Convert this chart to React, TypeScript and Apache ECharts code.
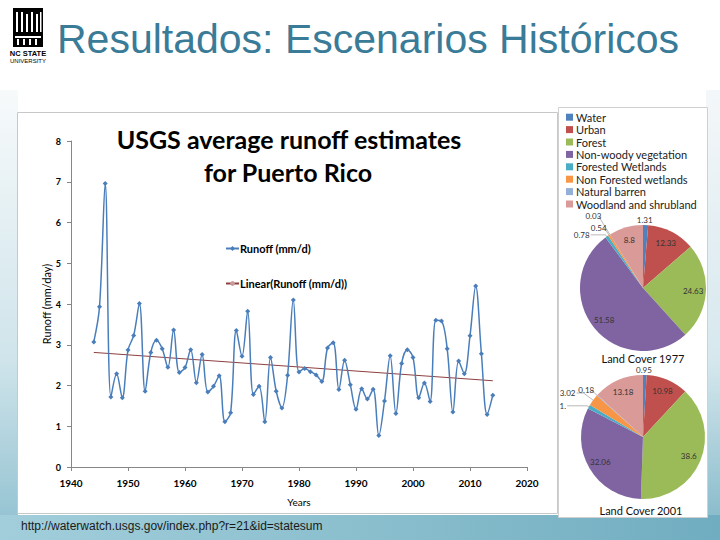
import React, { useEffect, useRef } from "react";
import * as echarts from "echarts";

const years = [
  1944, 1945, 1946, 1947, 1948, 1949, 1950, 1951, 1952, 1953, 1954, 1955,
  1956, 1957, 1958, 1959, 1960, 1961, 1962, 1963, 1964, 1965, 1966, 1967,
  1968, 1969, 1970, 1971, 1972, 1973, 1974, 1975, 1976, 1977, 1978, 1979,
  1980, 1981, 1982, 1983, 1984, 1985, 1986, 1987, 1988, 1989, 1990, 1991,
  1992, 1993, 1994, 1995, 1996, 1997, 1998, 1999, 2000, 2001, 2002, 2003,
  2004, 2005, 2006, 2007, 2008, 2009, 2010, 2011, 2012, 2013, 2014,
];
const runoff = [
  3.07, 3.93, 6.96, 1.72, 2.29, 1.7, 2.87, 3.23, 4.01, 1.86, 2.81, 3.11,
  2.9, 2.45, 3.36, 2.32, 2.44, 2.88, 2.07, 2.76, 1.84, 1.98, 2.24, 1.11,
  1.33, 3.35, 2.72, 3.82, 1.78, 1.98, 1.11, 2.69, 1.86, 1.45, 2.25, 4.1,
  2.33, 2.42, 2.34, 2.26, 2.1, 2.92, 3.05, 1.9, 2.62, 2.02, 1.42, 1.92,
  1.67, 1.91, 0.77, 1.62, 2.73, 1.31, 2.54, 2.88, 2.69, 1.7, 2.06, 1.61,
  3.6, 3.58, 2.9, 1.35, 2.6, 2.29, 3.22, 4.44, 2.78, 1.29, 1.76,
];
const yTicks = { min: 0, max: 8, interval: 1 };
const xTicks = { min: 1940, max: 2020, interval: 10 };

const landNames = [
  "Water",
  "Urban",
  "Forest",
  "Non-woody vegetation",
  "Forested Wetlands",
  "Non Forested wetlands",
  "Natural barren",
  "Woodland and shrubland",
];
const land1977 = [1.31, 12.33, 24.63, 51.58, 0.78, 0.54, 0.03, 8.8];
const land2001 = [0.95, 10.98, 38.6, 32.06, 1.03, 3.02, 0.18, 13.18];
const land1977Labels = ["1.31", "12.33", "24.63", "51.58", "0.78", "0.54", "0.03", "8.8"];
const land2001Labels = ["0.95", "10.98", "38.6", "32.06", "1.", "3.02", "0.18", "13.18"];
const pieColors = [
  "#4f81bd",
  "#c0504d",
  "#9bbb59",
  "#8064a2",
  "#4bacc6",
  "#f79646",
  "#95b0d8",
  "#d99a98",
];
// leader line styling for the small outside slices: [length, length2, gap, showLine] (null = inside label)
const leader1977: (number[] | null)[] = [[5, 0, -9, 0], null, null, null, [2, 15, 1, 1], [8, 0, -2, 1], [22, 0, -3, 1], null];
const leader2001: (number[] | null)[] = [[5, 0, -9, 0], null, null, null, [2, 20, 1, 1], [12, 7, 1, 1], [8, 0, -3, 1], null];

function linearFit(xs: number[], ys: number[]) {
  const n = xs.length;
  let sx = 0, sy = 0, sxx = 0, sxy = 0;
  for (let i = 0; i < n; i++) {
    sx += xs[i];
    sy += ys[i];
    sxx += xs[i] * xs[i];
    sxy += xs[i] * ys[i];
  }
  const b = (n * sxy - sx * sy) / (n * sxx - sx * sx);
  const a = (sy - b * sx) / n;
  return { a, b };
}

function txt(x: number, y: number, text: string, font: string, fill: string, align = "center") {
  return {
    type: "text",
    z: 2,
    x,
    y,
    style: {
      text,
      font,
      fill,
      align,
      verticalAlign: "middle",
      textAlign: align,
      textVerticalAlign: "middle",
    },
  };
}

export default function App() {
  const ref = useRef<HTMLDivElement>(null);
  useEffect(() => {
    if (!ref.current) return;
    const chart = echarts.init(ref.current, null, { renderer: "svg" });
    const fit = linearFit(years, runoff);
    const x0 = years[0];
    const x1 = years[years.length - 1];
    const trend = [
      [x0, fit.a + fit.b * x0],
      [x1, fit.a + fit.b * x1],
    ];

    const pieFill = (center: number[], r: number, vals: number[]) => ({
      type: "pie",
      center,
      radius: [0, r],
      startAngle: 90,
      clockwise: true,
      silent: true,
      label: { show: false },
      labelLine: { show: false },
      emphasis: { disabled: true },
      data: landNames.map((n, i) => ({
        name: n,
        value: vals[i],
        itemStyle: { color: pieColors[i] },
      })),
      z: 2,
    });
    const pieLabels = (
      center: number[],
      r: number,
      vals: number[],
      labels: string[],
      leaders: (number[] | null)[]
    ) => ({
      type: "pie",
      center,
      radius: [r / 2, r],
      startAngle: 90,
      clockwise: true,
      silent: true,
      emphasis: { disabled: true },
      avoidLabelOverlap: false,
      labelLayout: { hideOverlap: false },
      itemStyle: { color: "rgba(0,0,0,0)" },
      label: {
        show: true,
        position: "inside",
        fontSize: 8,
        fontFamily: "Lato",
        color: "#333333",
      },
      labelLine: { show: false },
      data: landNames.map((n, i) => {
        const l = leaders[i];
        return {
          name: n,
          value: vals[i],
          itemStyle: { color: "rgba(0,0,0,0)" },
          label: l
            ? { position: "outside", formatter: labels[i], distanceToLabelLine: l[2] }
            : { position: "inside", formatter: labels[i] },
          labelLine: l
            ? {
                show: l[3] === 1,
                length: l[0],
                length2: l[1],
                lineStyle: { color: "#8a8a8a", width: 0.6 },
              }
            : { show: false },
        };
      }),
      z: 3,
    });

    const logoBars = [
      [16, 12, 2, 20],
      [21, 12, 2, 20],
      [26, 14, 2, 18],
      [31, 12, 2, 20],
      [36, 14, 2, 18],
      [40, 12, 1.5, 20],
      [15, 36, 26, 2],
      [17, 39, 2, 6],
      [23, 39, 2, 6],
      [29, 39, 2, 6],
      [35, 39, 2, 6],
    ];

    const option: any = {
      animation: false,
      textStyle: { fontFamily: "Lato" },
      graphic: [
        { type: "rect", z: -10, shape: { x: 0, y: 0, width: 720, height: 540 }, style: { fill: "#ffffff" } },
        {
          type: "rect",
          z: -9,
          shape: { x: 0, y: 90, width: 18, height: 450 },
          style: {
            fill: new echarts.graphic.LinearGradient(0, 0, 0, 1, [
              { offset: 0, color: "#f7fafb" },
              { offset: 0.6, color: "#cfe4eb" },
              { offset: 1, color: "#8ebfcf" },
            ]),
          },
        },
        {
          type: "rect",
          z: -9,
          shape: { x: 706, y: 90, width: 14, height: 450 },
          style: {
            fill: new echarts.graphic.LinearGradient(0, 0, 0, 1, [
              { offset: 0, color: "#f4f7f9" },
              { offset: 0.6, color: "#d6e8ee" },
              { offset: 1, color: "#7fb6c7" },
            ]),
          },
        },
        {
          type: "rect",
          z: -8,
          shape: { x: 0, y: 515, width: 720, height: 25 },
          style: {
            fill: new echarts.graphic.LinearGradient(0, 0, 1, 0, [
              { offset: 0, color: "#a2cedb" },
              { offset: 0.5, color: "#8bbfce" },
              { offset: 1, color: "#70adc0" },
            ]),
          },
        },
        {
          type: "rect",
          z: -5,
          shape: { x: 17.5, y: 112.5, width: 540, height: 401 },
          style: { fill: "#ffffff", stroke: "#c8c8c8", lineWidth: 1 },
        },
        {
          type: "rect",
          z: -5,
          shape: { x: 558.5, y: 107.5, width: 149, height: 410 },
          style: { fill: "#ffffff", stroke: "#d0d0d0", lineWidth: 1 },
        },
        { type: "rect", z: 1, shape: { x: 13, y: 8, width: 30, height: 39 }, style: { fill: "#000000" } },
        ...logoBars.map((b) => ({
          type: "rect",
          z: 2,
          shape: { x: b[0], y: b[1], width: b[2], height: b[3] },
          style: { fill: "#ffffff" },
        })),
        txt(28, 53, "NC STATE", "bold 7.5px 'Liberation Sans'", "#000"),
        txt(28, 61, "UNIVERSITY", "6px 'Liberation Sans'", "#000"),
        txt(57, 39, "Resultados: Escenarios Históricos", "41px 'Liberation Sans'", "#3a7b98", "left"),
        txt(289, 139, "USGS average runoff estimates", "bold 25px Lato", "#000"),
        txt(288, 172, "for Puerto Rico", "bold 25px Lato", "#000"),
        txt(643, 358, "Land Cover 1977", "11px Lato", "#111"),
        txt(641, 510, "Land Cover 2001", "11px Lato", "#111"),
        txt(21, 526, "http://waterwatch.usgs.gov/index.php?r=21&id=statesum", "12px 'Liberation Sans'", "#1a1a1a", "left"),
      ],
      legend: [
        {
          data: ["Runoff (mm/d)", "Linear(Runoff (mm/d))"],
          orient: "vertical",
          left: 220,
          top: 238,
          itemWidth: 13,
          itemHeight: 6,
          itemGap: 24,
          selectedMode: false,
          textStyle: { fontFamily: "Lato", fontWeight: "bold", fontSize: 11, color: "#000", padding: [0, 0, 0, -4] },
        },
        {
          data: landNames,
          orient: "vertical",
          left: 561,
          top: 106,
          itemWidth: 7,
          itemHeight: 7,
          itemGap: 0,
          icon: "rect",
          selectedMode: false,
          textStyle: { fontFamily: "Lato", fontSize: 11, lineHeight: 12.4, color: "#222", padding: [0, 0, 0, -2] },
        },
      ],
      grid: { left: 71, right: 193, top: 141, bottom: 73 },
      xAxis: {
        type: "value",
        min: xTicks.min,
        max: xTicks.max,
        interval: xTicks.interval,
        name: "Years",
        nameLocation: "middle",
        nameGap: 30,
        nameMoveOverlap: false,
        nameTextStyle: { fontFamily: "Lato", fontSize: 10, color: "#000" },
        axisLine: { show: true, lineStyle: { color: "#868686", width: 1 } },
        axisTick: { show: true, length: 4, lineStyle: { color: "#868686" } },
        splitLine: { show: false },
        axisLabel: {
          fontFamily: "Lato",
          fontWeight: "bold",
          fontSize: 10,
          color: "#000",
          margin: 11,
          formatter: (v: number) => String(v),
        },
      },
      yAxis: {
        type: "value",
        min: yTicks.min,
        max: yTicks.max,
        interval: yTicks.interval,
        name: "Runoff (mm/day)",
        nameLocation: "middle",
        nameGap: 19,
        nameMoveOverlap: false,
        nameRotate: 90,
        nameTextStyle: { fontFamily: "Lato", fontSize: 11, color: "#000" },
        axisLine: { show: true, lineStyle: { color: "#868686", width: 1 } },
        axisTick: { show: true, length: 4, lineStyle: { color: "#868686" } },
        splitLine: { show: false },
        axisLabel: { fontFamily: "Lato", fontWeight: "bold", fontSize: 9, color: "#000", margin: 10 },
      },
      series: [
        {
          type: "line",
          name: "Runoff (mm/d)",
          data: years.map((y, i) => [y, runoff[i]]),
          smooth: 0.35,
          symbol: "diamond",
          symbolSize: 5,
          showSymbol: true,
          lineStyle: { color: "#4a7ebb", width: 1.5 },
          itemStyle: { color: "#4a7ebb" },
          z: 3,
        },
        {
          type: "line",
          name: "Linear(Runoff (mm/d))",
          data: trend,
          symbol: "none",
          lineStyle: { color: "#8e3f3f", width: 1 },
          itemStyle: { color: "#c99a9a" },
          z: 2,
        },
        pieFill([643, 288], 63, land1977),
        pieFill([643, 437], 62, land2001),
        pieLabels([643, 288], 63, land1977, land1977Labels, leader1977),
        pieLabels([643, 437], 62, land2001, land2001Labels, leader2001),
      ],
    };
    chart.setOption(option);
    return () => chart.dispose();
  }, []);
  return (
    <div
      ref={ref}
      style={{ position: "absolute", left: 0, top: 0, width: 720, height: 540 }}
    />
  );
}
